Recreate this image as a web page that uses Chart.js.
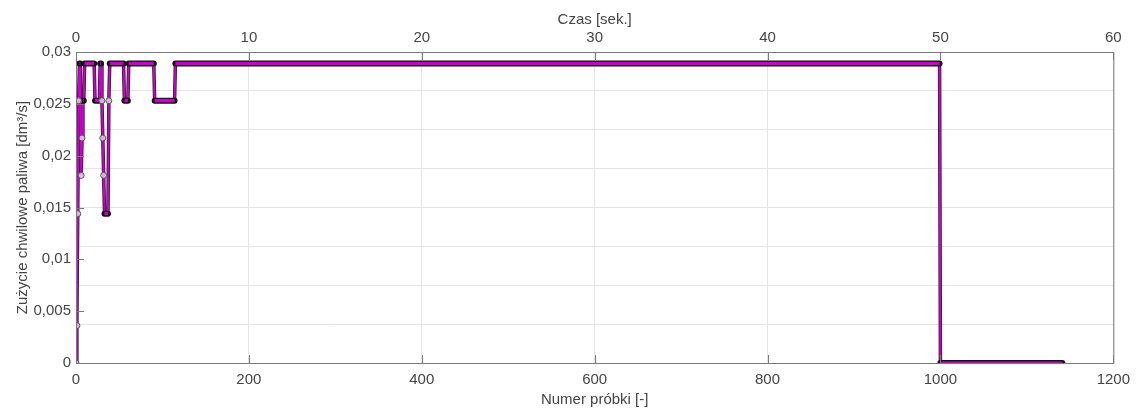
<!DOCTYPE html>
<html>
<head>
<meta charset="utf-8">
<script src="https://cdn.jsdelivr.net/npm/chart.js@4"></script>
<style>
  html, body { margin: 0; padding: 0; background: #fff; }
  #wrap { width: 1138px; height: 409px; }
</style>
</head>
<body>
<div id="wrap"><canvas id="c" width="1138" height="409"></canvas></div>
<script>
// runs of constant fuel use: first sample, last sample, value [dm3/s]
const runStart = [0, 1, 2, 3, 4, 6, 7, 8, 10, 22, 28, 30, 31, 32, 33, 38, 39, 56, 61, 91, 115, 1000];
const runEnd   = [0, 1, 2, 3, 5, 6, 7, 9, 21, 27, 29, 30, 31, 32, 37, 38, 55, 60, 90, 114, 999, 1141];
const runValue = [0, 0.0036, 0.0144, 0.0253, 0.0289, 0.0181, 0.0217, 0.0253, 0.0289, 0.0253, 0.0289,
                  0.0253, 0.0217, 0.0181, 0.0144, 0.0253, 0.0289, 0.0253, 0.0289, 0.0253, 0.0289, 0];

const sampleTicks = [0, 200, 400, 600, 800, 1000, 1200];
const timeTicks = [0, 10, 20, 30, 40, 50, 60];

const MAG = "rgb(204,0,204)";
const TICKFONT = { family: "'Liberation Sans', Arial, sans-serif", size: 15 };
const TITLEFONT = { family: "'Liberation Sans', Arial, sans-serif", size: 15 };
const TXT = "#444";

// connecting line through every run start/end
const linePts = [];
runStart.forEach((s, i) => {
  linePts.push({ x: s, y: runValue[i] });
  if (runEnd[i] !== s) linePts.push({ x: runEnd[i], y: runValue[i] });
});
// flat runs (dense markers in the original look like a thick band)
const bandPts = [];
runStart.forEach((s, i) => {
  if (runEnd[i] > s) {
    bandPts.push({ x: s, y: runValue[i] }, { x: runEnd[i], y: runValue[i] }, { x: runEnd[i], y: null });
  }
});
// single-sample transitions, drawn as open markers
const singlePts = [];
runStart.forEach((s, i) => {
  if (runEnd[i] === s) singlePts.push({ x: s, y: runValue[i] });
});

const frame = {
  id: "frame",
  afterDraw(chart) {
    const { ctx, chartArea: a, scales } = chart;
    ctx.save();
    ctx.strokeStyle = "#7a7a7a";
    ctx.lineWidth = 1;
    ctx.strokeRect(a.left + 0.5, a.top + 0.5, a.right - a.left, a.bottom - a.top);
    ctx.beginPath();
    scales.x.ticks.forEach(t => {
      const px = Math.round(scales.x.getPixelForValue(t.value)) + 0.5;
      ctx.moveTo(px, a.bottom); ctx.lineTo(px, a.bottom - 8);
    });
    scales.x2.ticks.forEach(t => {
      const px = Math.round(scales.x2.getPixelForValue(t.value)) + 0.5;
      ctx.moveTo(px, a.top); ctx.lineTo(px, a.top + 8);
    });
    scales.y.ticks.forEach(t => {
      const py = Math.round(scales.y.getPixelForValue(t.value)) + 0.5;
      ctx.moveTo(a.left, py); ctx.lineTo(a.left + 8, py);
    });
    ctx.stroke();
    ctx.restore();
  }
};

new Chart(document.getElementById("c"), {
  type: "line",
  data: {
    datasets: [
      { data: linePts, borderColor: "#222", borderWidth: 3.5, pointRadius: 0, tension: 0, order: 5 },
      { data: linePts, borderColor: MAG, borderWidth: 2, pointRadius: 0, tension: 0, order: 4 },
      { data: bandPts, borderColor: "#111", borderWidth: 6, borderCapStyle: "round",
        pointRadius: 0, spanGaps: false, tension: 0, order: 3 },
      { data: bandPts, borderColor: MAG, borderWidth: 3.2, borderCapStyle: "butt",
        pointRadius: 0, spanGaps: false, tension: 0, order: 2 },
      { data: singlePts, showLine: false, pointRadius: 3, pointBorderWidth: 1,
        pointBorderColor: "#555", pointBackgroundColor: "rgba(235,190,235,0.9)", order: 1 }
    ]
  },
  options: {
    responsive: false,
    animation: false,
    layout: { padding: { left: 6, right: 24, top: 0, bottom: 0 } },
    plugins: { legend: { display: false }, tooltip: { enabled: false } },
    scales: {
      x: {
        type: "linear", position: "bottom", min: 0, max: 1200,
        afterBuildTicks: s => { s.ticks = sampleTicks.map(v => ({ value: v })); },
        grid: { color: "#e4e4e4", drawTicks: false },
        border: { display: false },
        ticks: { color: TXT, font: TICKFONT, padding: 8, maxRotation: 0, callback: v => String(v) },
        title: { display: true, text: "Numer próbki [-]", color: TXT, font: TITLEFONT, padding: { top: 0, bottom: 0 } },
        afterFit: s => { s.height = 46; }
      },
      x2: {
        type: "linear", position: "top", min: 0, max: 60,
        afterBuildTicks: s => { s.ticks = timeTicks.map(v => ({ value: v })); },
        grid: { drawOnChartArea: false, drawTicks: false },
        border: { display: false },
        ticks: { color: TXT, font: TICKFONT, padding: 5, maxRotation: 0, callback: v => String(v) },
        title: { display: true, text: "Czas [sek.]", color: TXT, font: TITLEFONT, padding: { top: 11, bottom: 0 } },
        afterFit: s => { s.height = 52; }
      },
      y: {
        type: "linear", position: "left", min: 0, max: 0.03,
        ticks: {
          stepSize: 0.005, color: TXT, font: TICKFONT, padding: 5,
          callback: v => String(Number(v.toFixed(3))).replace(".", ",")
        },
        grid: { drawOnChartArea: false, drawTicks: false },
        border: { display: false },
        title: { display: true, text: "Zużycie chwilowe paliwa [dm³/s]", color: TXT, font: TITLEFONT, padding: { top: 8, bottom: 0 } },
        afterFit: s => { s.width = 70; }
      },
      yg: {
        type: "linear", position: "left", min: 0, max: 8,
        ticks: { display: false, stepSize: 1 },
        grid: { color: "#e4e4e4", drawTicks: false },
        border: { display: false },
        afterFit: s => { s.width = 0; }
      }
    }
  },
  plugins: [frame]
});
</script>
</body>
</html>
